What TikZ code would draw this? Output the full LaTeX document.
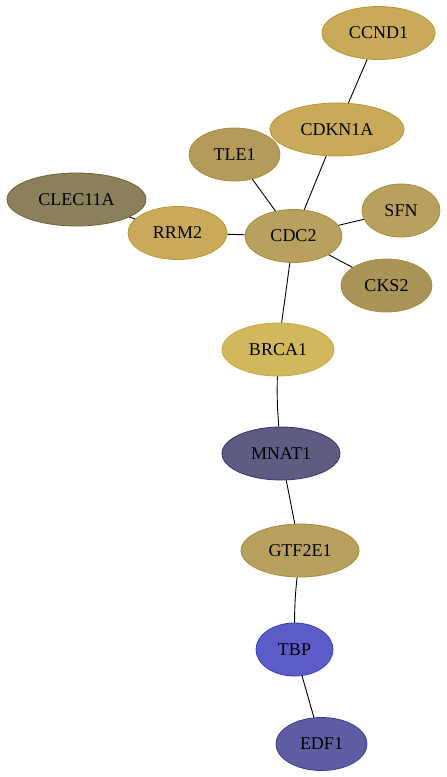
\documentclass[tikz,border=0pt]{standalone}
\usepackage{fontspec}
\setmainfont{Liberation Serif}
\usetikzlibrary{shapes.geometric}
\definecolor{goldA}{HTML}{C8AA5A}
\definecolor{goldAline}{HTML}{B8982F}
\definecolor{goldB}{HTML}{B8A05E}
\definecolor{goldBline}{HTML}{A58D3A}
\definecolor{goldC}{HTML}{D3B75D}
\definecolor{goldCline}{HTML}{C9A83A}
\definecolor{olive}{HTML}{8B7F5C}
\definecolor{oliveline}{HTML}{6E6235}
\definecolor{navy}{HTML}{5F5C84}
\definecolor{navyline}{HTML}{33336B}
\definecolor{blueA}{HTML}{5C5CC8}
\definecolor{blueAline}{HTML}{3B3BC0}
\definecolor{blueB}{HTML}{5E5DA3}
\definecolor{blueBline}{HTML}{3A3A96}
\tikzstyle{gene} = [ellipse, minimum height=53pt, inner sep=0pt, text centered, font=\fontsize{18}{20}\selectfont, line width=0.8pt]
\tikzstyle{golden} = [gene, fill=goldA, draw=goldAline]
\tikzstyle{tan} = [gene, fill=goldB, draw=goldBline]
\tikzstyle{yellow} = [gene, fill=goldC, draw=goldCline]
\tikzstyle{dark} = [gene, fill=olive, draw=oliveline]
\tikzstyle{slate} = [gene, fill=navy, draw=navyline]
\tikzstyle{bright} = [gene, fill=blueA, draw=blueAline]
\tikzstyle{indigo} = [gene, fill=blueB, draw=blueBline]
\tikzstyle{link} = [line width=0.9pt, black]

\begin{document}
\begin{tikzpicture}[x=1pt, y=1pt]
\useasboundingbox (0,0) rectangle (447,-777);

\node (ccnd1) [golden, minimum width=113pt] at (378.5,-33) {CCND1};
\node (cdkn1a) [golden, minimum width=134pt] at (337,-129.5) {CDKN1A};
\node (tle1) [tan, minimum width=91pt, fill=goldB!97!black] at (234.5,-154.5) {TLE1};
\node (clec11a) [dark, minimum width=139pt] at (76.5,-199.5) {CLEC11A};
\node (rrm2) [golden, minimum width=99pt] at (177.5,-233) {RRM2};
\node (cdc2) [tan, minimum width=97pt] at (293.5,-236) {CDC2};
\node (sfn) [tan, minimum width=78pt, fill=goldB!95!goldA] at (401,-210.5) {SFN};
\node (cks2) [tan, minimum width=91pt, fill=goldB!92!black] at (386.5,-285.5) {CKS2};
\node (brca1) [yellow, minimum width=112pt] at (278,-349.5) {BRCA1};
\node (mnat1) [slate, minimum width=118pt] at (281,-453.5) {MNAT1};
\node (gtf2e1) [tan, minimum width=118pt] at (300,-550.5) {GTF2E1};
\node (tbp) [bright, minimum width=77pt] at (294.5,-649.5) {TBP};
\node (edf1) [indigo, minimum width=91pt] at (321.5,-744) {EDF1};

\draw [link] (ccnd1) -- (cdkn1a);
\draw [link] (cdkn1a) -- (cdc2);
\draw [link] (tle1) -- (cdc2);
\draw [link] (clec11a) -- (rrm2);
\draw [link] (rrm2) -- (cdc2);
\draw [link] (sfn) -- (cdc2);
\draw [link] (cks2) -- (cdc2);
\draw [link] (cdc2) -- (brca1);
\draw [link] (brca1) to[bend right=3] (mnat1);
\draw [link] (mnat1) -- (gtf2e1);
\draw [link] (gtf2e1) to[bend right=3] (tbp);
\draw [link] (tbp) -- (edf1);

\end{tikzpicture}
\end{document}
